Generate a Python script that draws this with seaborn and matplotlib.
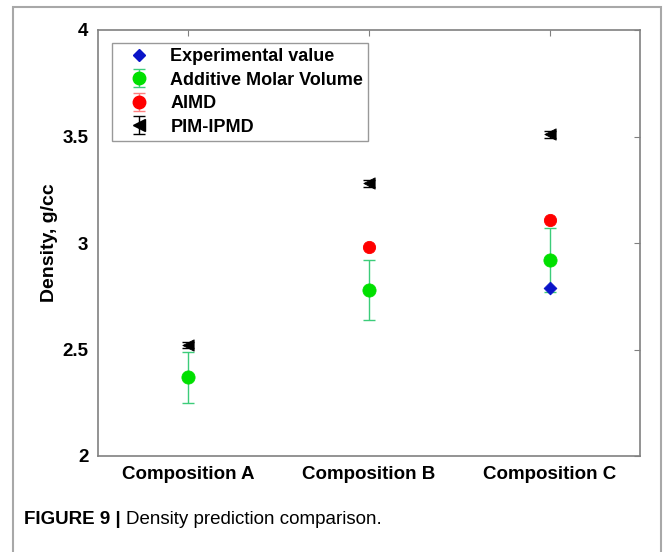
import matplotlib
matplotlib.use("Agg")
import matplotlib.pyplot as plt
from matplotlib.patches import Rectangle
import numpy as np
import pandas as pd
import seaborn as sns

# values
compositions = ["Composition A", "Composition B", "Composition C"]
exp_value = [np.nan, np.nan, 2.79]
additive = [2.37, 2.78, 2.92]
additive_err = [0.12, 0.14, 0.15]
aimd = [np.nan, 2.98, 3.11]
aimd_err = [0.0, 0.0, 0.0]
pim = [2.52, 3.28, 3.51]
pim_err = [0.015, 0.015, 0.015]
y_ticks = [2, 2.5, 3, 3.5, 4]

methods = ["Experimental value", "Additive Molar Volume", "AIMD", "PIM-IPMD"]
colors = {"Experimental value": "#0a14c8", "Additive Molar Volume": "#00e000",
          "AIMD": "#ff0000", "PIM-IPMD": "#000000"}
bar_colors = {"Additive Molar Volume": "#3ccc7a", "AIMD": "#ff7f7f", "PIM-IPMD": "#000000"}
markers = {"Experimental value": "D", "Additive Molar Volume": "o", "AIMD": "o", "PIM-IPMD": "<"}
sizes = {"Experimental value": 42, "Additive Molar Volume": 90, "AIMD": 78, "PIM-IPMD": 66}

pos = np.arange(1, len(compositions) + 1)
rows = []
for m, vals, errs in [("Experimental value", exp_value, [0, 0, 0]),
                      ("Additive Molar Volume", additive, additive_err),
                      ("AIMD", aimd, aimd_err),
                      ("PIM-IPMD", pim, pim_err)]:
    for p, c, v, e in zip(pos, compositions, vals, errs):
        rows.append({"method": m, "pos": p, "composition": c, "density": v, "err": e})
df = pd.DataFrame(rows).dropna(subset=["density"])

sns.set_theme(style="white")
plt.rcParams["font.family"] = ["Liberation Sans", "DejaVu Sans"]
plt.rcParams["font.weight"] = "bold"
plt.rcParams["text.color"] = "black"
plt.rcParams["axes.labelcolor"] = "black"
plt.rcParams["xtick.labelcolor"] = "black"
plt.rcParams["ytick.labelcolor"] = "black"

fig = plt.figure(figsize=(6.63, 5.52), dpi=100)
ax = fig.add_axes([98 / 663, 96 / 552, 542 / 663, 426 / 552])

for m in ["Additive Molar Volume", "AIMD", "PIM-IPMD"]:
    sub = df[df.method == m]
    ax.errorbar(sub.pos, sub.density, yerr=sub.err, fmt="none", ecolor=bar_colors[m],
                elinewidth=1.0, capsize=4, capthick=1.0, zorder=2)

order = ["Additive Molar Volume", "AIMD", "PIM-IPMD", "Experimental value"]
for m in order:
    sub = df[df.method == m]
    sns.scatterplot(data=sub, x="pos", y="density", marker=markers[m], color=colors[m],
                    s=sizes[m], edgecolor=colors[m], linewidth=0.6, ax=ax,
                    legend=False, zorder=3)

ax.set_xlim(0.5, 3.5)
ax.set_ylim(2, 4)
ax.set_xticks(pos)
ax.set_xticklabels(compositions, fontsize=13.5, fontweight="bold")
ax.set_yticks(y_ticks)
ax.set_yticklabels(["2", "2.5", "3", "3.5", "4"], fontsize=13.5, fontweight="bold")
ax.set_xlabel("")
ax.set_ylabel("Density, g/cc", fontsize=14, fontweight="bold", labelpad=3)
ax.tick_params(direction="in", length=4, width=0.8, color="#808080",
               top=True, right=True, pad=7)
for s in ax.spines.values():
    s.set_color("#808080")
    s.set_linewidth(1.2)

# legend proxies
handles = []
handles.append(ax.plot([np.nan], [np.nan], ls="none", marker="D", ms=6.5,
                       color=colors["Experimental value"])[0])
for m in ["Additive Molar Volume", "AIMD", "PIM-IPMD"]:
    h = ax.errorbar([np.nan], [np.nan], yerr=[0.1], fmt=markers[m], color=colors[m],
                    ecolor=bar_colors[m], ms=9 if m != "PIM-IPMD" else 8,
                    capsize=4, elinewidth=1.0)
    handles.append(h)
leg = ax.legend(handles, methods, loc="upper left", bbox_to_anchor=(14 / 542, 1 - 13 / 426),
                frameon=True, fancybox=False, edgecolor="#808080", fontsize=13,
                borderpad=0.28, labelspacing=0.36, handletextpad=0.55, handlelength=2.4,
                borderaxespad=0)
leg.get_frame().set_linewidth(1.0)
for t in leg.get_texts():
    t.set_fontweight("bold")
    t.set_color("black")

# outer frame
fig.patches.append(Rectangle((13 / 663, -0.1), 648 / 663, 1.1 - 7 / 552,
                             transform=fig.transFigure, fill=False,
                             edgecolor="#a8a8a8", linewidth=1.5, clip_on=False))

# caption
t1 = fig.text(24 / 663, 1 - 520 / 552, "FIGURE 9 |", fontsize=13.5, fontweight="bold",
              va="center", ha="left")
fig.canvas.draw()
bb = t1.get_window_extent()
fig.text((bb.x1 + 5) / 663, 1 - 520 / 552, "Density prediction comparison.",
         fontsize=13.5, fontweight="normal", va="center", ha="left")

fig.savefig("out.png", dpi=100)
